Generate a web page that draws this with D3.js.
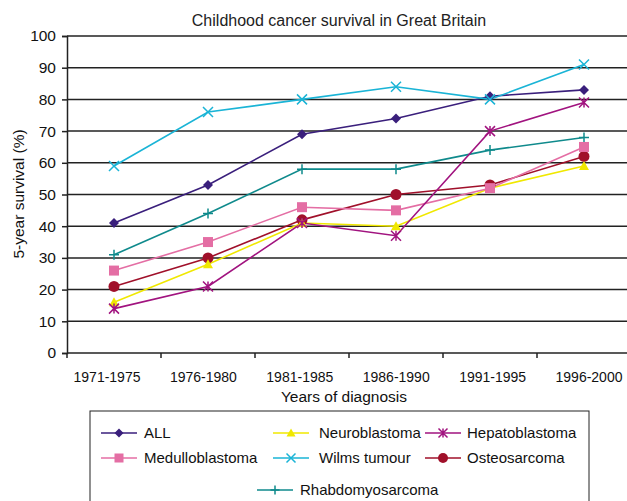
<!DOCTYPE html>
<html><head><meta charset="utf-8">
<script src="https://cdn.jsdelivr.net/npm/d3@7"></script>
<style>body{margin:0;background:#fff}svg{display:block;font-family:"Liberation Sans",Arial,sans-serif}</style>
</head><body><svg id="c" width="627" height="501"></svg>
<script>
const periods = ["1971-1975","1976-1980","1981-1985","1986-1990","1991-1995","1996-2000"];
const yTicks = [0,10,20,30,40,50,60,70,80,90,100];
const seriesNames = ["ALL","Medulloblastoma","Neuroblastoma","Wilms tumour","Hepatoblastoma","Osteosarcoma","Rhabdomyosarcoma"];
const valALL = [41,53,69,74,81,83];
const valMedullo = [26,35,46,45,52,65];
const valNeuro = [16,28,41,40,52,59];
const valWilms = [59,76,80,84,80,91];
const valHepato = [14,21,41,37,70,79];
const valOsteo = [21,30,42,50,53,62];
const valRhabdo = [31,44,58,58,64,68];
const colors = ["#3a1f7c","#e46ea4","#f0e800","#1ab4d6","#a1137f","#a0102a","#0f8a8c"];
const symbols = ["diamond","square","triangle","x","asterisk","circle","plus"];
const values = [valALL,valMedullo,valNeuro,valWilms,valHepato,valOsteo,valRhabdo];
const series = seriesNames.map((n,i)=>({name:n,values:values[i],color:colors[i],sym:symbols[i]}));

const svg = d3.select("#c");
const L=67,R=631,T=36,B=353,GR=627;
const x = d3.scaleBand().domain(periods).range([L,R]);
const xLab = d3.scalePoint().domain(periods).range([106.5,588.5]);
const y = d3.scaleLinear().domain([0,100]).range([B,T]);
const FONT="Liberation Sans, Arial, sans-serif";

svg.append("text").attr("x",339).attr("y",26).attr("text-anchor","middle").attr("font-size",16).attr("fill","#222").text("Childhood cancer survival in Great Britain");

// gridlines
svg.append("g").selectAll("line").data(yTicks.filter(d=>d>0)).join("line")
 .attr("x1",L).attr("x2",GR).attr("y1",d=>y(d)).attr("y2",d=>y(d)).attr("stroke","#222").attr("stroke-width",1.5);

const ya = svg.append("g").attr("transform",`translate(${L},0)`).call(d3.axisLeft(y).tickValues(yTicks).tickSize(5).tickPadding(6));
ya.select(".domain").attr("stroke","#222").attr("stroke-width",1.5);
ya.selectAll(".tick line").attr("stroke","#222").attr("stroke-width",1.5);
ya.selectAll("text").attr("font-size",15.5).attr("fill","#111").attr("font-family",FONT);

// x axis baseline
svg.append("line").attr("x1",L).attr("x2",GR).attr("y1",B).attr("y2",B).attr("stroke","#222").attr("stroke-width",1.5);
const xa = svg.append("g").attr("transform",`translate(0,${B})`).call(d3.axisBottom(xLab).tickSize(0).tickPadding(19));
xa.select(".domain").remove();
xa.selectAll("text").attr("font-size",14).attr("fill","#111").attr("font-family",FONT);
// tick marks at band edges
svg.append("g").selectAll("line").data(periods).join("line")
 .attr("x1",d=>x(d)).attr("x2",d=>x(d))
 .attr("y1",B).attr("y2",B+5).attr("stroke","#222").attr("stroke-width",1.5);

svg.append("text").attr("transform","translate(24,194) rotate(-90)").attr("text-anchor","middle").attr("font-size",15.5).attr("fill","#111").text("5-year survival (%)");
svg.append("text").attr("x",344).attr("y",402).attr("text-anchor","middle").attr("font-size",15.5).attr("fill","#111").text("Years of diagnosis");

function marker(g, sym, color, s){
  s = s||5;
  if(sym==="diamond") g.append("path").attr("d",`M0,${-s}L${s},0L0,${s}L${-s},0Z`).attr("fill",color);
  else if(sym==="square") g.append("rect").attr("x",-s).attr("y",-s).attr("width",2*s).attr("height",2*s).attr("fill",color);
  else if(sym==="triangle") g.append("path").attr("d",`M0,${-s}L${s},${s*0.8}L${-s},${s*0.8}Z`).attr("fill",color);
  else if(sym==="circle") g.append("circle").attr("r",s+0.5).attr("fill",color);
  else if(sym==="x") g.append("path").attr("d",`M${-s},${-s}L${s},${s}M${-s},${s}L${s},${-s}`).attr("stroke",color).attr("stroke-width",1.5);
  else if(sym==="plus") g.append("path").attr("d",`M${-s},0L${s},0M0,${-s}L0,${s}`).attr("stroke",color).attr("stroke-width",1.5);
  else if(sym==="asterisk") g.append("path").attr("d",`M${-s},${-s}L${s},${s}M${-s},${s}L${s},${-s}M0,${-s}L0,${s}`).attr("stroke",color).attr("stroke-width",1.5);
}

const line = d3.line().x((d,i)=>x(periods[i])+x.bandwidth()/2).y(d=>y(d));
const drawOrder = [6,5,2,1,4,0,3];
drawOrder.forEach(k=>{
  const s = series[k];
  svg.append("path").datum(s.values).attr("d",line).attr("fill","none").attr("stroke",s.color).attr("stroke-width",1.6);
});
drawOrder.forEach(k=>{
  const s = series[k];
  s.values.forEach((v,i)=>{
    const g = svg.append("g").attr("transform",`translate(${x(periods[i])+x.bandwidth()/2},${y(v)})`);
    marker(g,s.sym,s.color,5);
  });
});

// legend
svg.append("rect").attr("x",90).attr("y",411).attr("width",499).attr("height",100).attr("fill","none").attr("stroke","#222").attr("stroke-width",1);
const legPos = [[101,433,144],[101,458,144],[273,433,319],[273,458,319],[425,433,467],[425,458,467],[257,490,300]];
series.forEach((s,i)=>{
  const [lx,ly,tx]=legPos[i];
  svg.append("line").attr("x1",lx).attr("x2",lx+36).attr("y1",ly).attr("y2",ly).attr("stroke",s.color).attr("stroke-width",1.6);
  const g = svg.append("g").attr("transform",`translate(${lx+18},${ly})`);
  marker(g,s.sym,s.color,4.5);
  svg.append("text").attr("x",tx).attr("y",ly+5).attr("font-size",15).attr("fill","#111").text(s.name);
});
</script></body></html>
